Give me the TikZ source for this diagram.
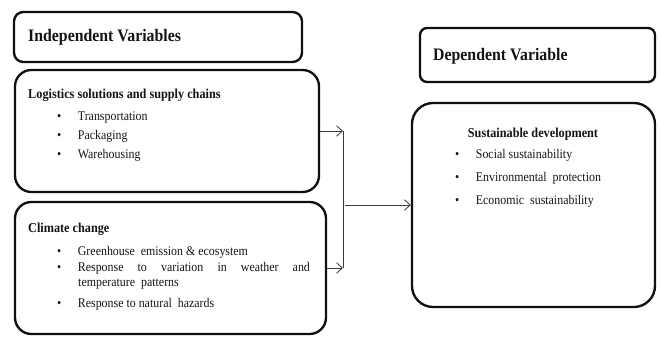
\documentclass[tikz,border=0pt]{standalone}
\usepackage{fontspec}
\setmainfont{Liberation Serif}[FakeStretch=0.9]
\usepackage{xcolor}
\usepackage{tikz}
\usetikzlibrary{arrows.meta, positioning, calc, fit}
\definecolor{inkblack}{HTML}{101010}
\definecolor{wiregray}{HTML}{3A3A3A}
\definecolor{textdark}{HTML}{141414}
\newcommand{\bitem}[1]{\makebox[0.62cm][l]{\textbullet}#1}
\tikzset{
  panel/.style={draw=inkblack, line width=2pt, rounded corners=#1, inner sep=0pt},
  panel/.default=8pt,
  arr/.style={-{Straight Barb[length=5pt, width=9pt]}, line width=0.7pt, wiregray},
  wire/.style={line width=0.7pt, wiregray},
  bighead/.style={anchor=base west, inner sep=0pt, text=textdark, font=\fontsize{15}{18}\selectfont\bfseries},
  subhead/.style={anchor=base west, inner sep=0pt, text=textdark, font=\fontsize{11.6}{14}\selectfont\bfseries},
  itemtxt/.style={anchor=base west, inner sep=0pt, text=textdark, font=\fontsize{11.3}{13}\selectfont},
}

\begin{document}
\begin{tikzpicture}[x=0.03cm, y=-0.03cm]
  \useasboundingbox (0,0) rectangle (660,337);
  % boxes
  \node[panel, fit={(14,12) (302,62)}] (indep) {};
  \node[panel=14pt, fit={(15,70) (319,192)}] (logi) {};
  \node[panel=14pt, fit={(15,202) (326,334)}] (clim) {};
  \node[panel=6pt, fit={(420,28) (655,82)}] (dep) {};
  \node[panel=18pt, fit={(412,103) (655,307)}] (sust) {};

  % left texts
  \node[bighead] (indepT) at (28,42) {Independent Variables};
  \node[subhead] (logiT) at (28,98) {Logistics solutions and supply chains};
  \node[itemtxt] (logiA) at (57,120) {\bitem{Transportation}};
  \node[itemtxt] (logiB) at (57,139) {\bitem{Packaging}};
  \node[itemtxt] (logiC) at (57,158) {\bitem{Warehousing}};

  \node[subhead] (climT) at (28,232) {Climate change};
  \node[itemtxt] (climA) at (57,255) {\bitem{Greenhouse\ \ emission \& ecosystem}};
  \node[itemtxt] (climB) at (57,271) {\bitem{\makebox[6.96cm][s]{Response to variation in weather and}}};
  \node[itemtxt] (climB2) at (78,286) {temperature\ \ patterns};
  \node[itemtxt] (climC) at (57,307) {\bitem{Response to natural\ \ hazards}};

  % right texts
  \node[bighead] (depT) at (433,60) {Dependent Variable};
  \node[subhead, anchor=base] (sustT) at (533,137) {Sustainable development};
  \node[itemtxt] (sustA) at (455,158) {\bitem{Social sustainability}};
  \node[itemtxt] (sustB) at (455,181) {\bitem{Environmental\ \ protection}};
  \node[itemtxt] (sustC) at (455,204) {\bitem{Economic\ \ sustainability}};

  % connectors
  \coordinate (bus) at (343,204);
  \draw[arr] (logi.east) -- (logi.east -| bus);
  \draw[arr] (clim.east) -- (clim.east -| bus);
  \draw[wire] (logi.east -| bus) -- (clim.east -| bus);
  \draw[arr] ([xshift=2pt]bus |- sust.west) -- (sust.west);
\end{tikzpicture}
\end{document}
